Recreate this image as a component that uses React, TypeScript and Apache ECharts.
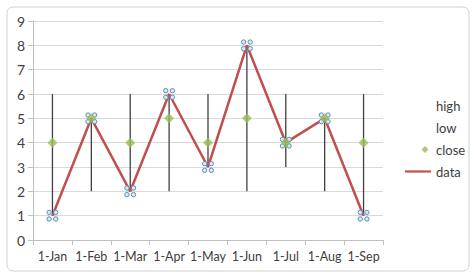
import React, { useEffect, useRef } from "react";
import * as echarts from "echarts";

const categories = ["1-Jan", "1-Feb", "1-Mar", "1-Apr", "1-May", "1-Jun", "1-Jul", "1-Aug", "1-Sep"];
const highValues = [6, 5, 6, 6, 6, 8, 6, 5, 6];
const lowValues = [1, 2, 2, 2, 3, 2, 3, 2, 1];
const closeValues = [4, 5, 4, 5, 4, 5, 4, 5, 4];
const dataValues = [1, 5, 2, 6, 3, 8, 4, 5, 1];
const yTicks = [0, 1, 2, 3, 4, 5, 6, 7, 8, 9];

const FONT = "Lato, 'Open Sans', sans-serif";
const handlePath =
  "path://M-1,-3a2,2 0 1,0 -4,0a2,2 0 1,0 4,0Z M5,-3a2,2 0 1,0 -4,0a2,2 0 1,0 4,0Z M-1,3a2,2 0 1,0 -4,0a2,2 0 1,0 4,0Z M5,3a2,2 0 1,0 -4,0a2,2 0 1,0 4,0Z";

export default function App() {
  const ref = useRef<HTMLDivElement>(null);
  useEffect(() => {
    document.body.style.margin = "0";
    const chart = echarts.init(ref.current!, null, { renderer: "svg" });
    chart.setOption({
      animation: false,
      backgroundColor: "#ffffff",
      graphic: [
        {
          type: "rect",
          shape: { x: 7, y: 7, width: 462, height: 264, r: 6 },
          style: { fill: "#ffffff", stroke: "#d0d0d0", lineWidth: 1 },
          z: -10,
          silent: true,
        },
      ],
      grid: { left: 33, right: 91, top: 21, bottom: 37 },
      legend: {
        orient: "vertical",
        left: 400,
        top: 94,
        itemWidth: 26,
        itemHeight: 10,
        itemGap: 9,
        textStyle: { color: "#404040", fontSize: 13, fontFamily: FONT },
        data: [
          { name: "high", icon: "rect", itemStyle: { opacity: 0 } },
          { name: "low", icon: "rect", itemStyle: { opacity: 0 } },
          {
            name: "close",
            icon: "path://M20,1.5 L23.5,5 L20,8.5 L16.5,5 Z M0,0 L0.01,0 L0,0.01 Z M26,10 L25.99,10 L26,9.99 Z",
            itemStyle: { color: "#9bbb59", borderWidth: 0 },
          },
          {
            name: "data",
            icon: "path://M0,4 L26,4 L26,6.2 L0,6.2 Z",
            itemStyle: { color: "#c0504d", borderWidth: 0 },
          },
        ],
      },
      xAxis: {
        type: "category",
        data: categories,
        boundaryGap: true,
        axisLine: { lineStyle: { color: "#bfbfbf" } },
        axisTick: { show: true, alignWithLabel: false, length: 5, lineStyle: { color: "#bfbfbf" } },
        axisLabel: { color: "#404040", fontSize: 12.5, fontFamily: FONT, margin: 10, interval: 0 },
      },
      yAxis: {
        type: "value",
        min: yTicks[0],
        max: yTicks[yTicks.length - 1],
        interval: 1,
        axisLine: { show: true, lineStyle: { color: "#bfbfbf" } },
        axisTick: { show: true, length: 5, lineStyle: { color: "#bfbfbf" } },
        axisLabel: { color: "#404040", fontSize: 14, fontFamily: FONT, margin: 8 },
        splitLine: { lineStyle: { color: "#d9d9d9" } },
      },
      series: [
        {
          name: "high",
          type: "custom",
          data: categories.map((_, i) => [i, highValues[i], lowValues[i]]),
          renderItem: (params: any, api: any) => {
            const top = api.coord([api.value(0), api.value(1)]);
            const bottom = api.coord([api.value(0), api.value(2)]);
            return {
              type: "line",
              shape: { x1: top[0], y1: top[1], x2: bottom[0], y2: bottom[1] },
              style: { stroke: "#404040", lineWidth: 1.3 },
            };
          },
          z: 1,
        },
        {
          name: "low",
          type: "scatter",
          data: lowValues,
          symbolSize: 0,
          itemStyle: { opacity: 0 },
          z: 1,
        },
        {
          name: "data",
          type: "line",
          data: dataValues,
          symbol: handlePath,
          symbolSize: 11,
          showAllSymbol: true,
          lineStyle: { color: "#c0504d", width: 2.5 },
          itemStyle: { color: "#dbe9f4", borderColor: "#5b8fc0", borderWidth: 1 },
          z: 2,
        },
        {
          name: "close",
          type: "scatter",
          data: closeValues,
          symbol: "diamond",
          symbolSize: 10,
          itemStyle: { color: "#9bbb59" },
          z: 3,
        },
      ],
    });
    return () => chart.dispose();
  }, []);
  return <div ref={ref} style={{ width: 474, height: 277 }} />;
}
